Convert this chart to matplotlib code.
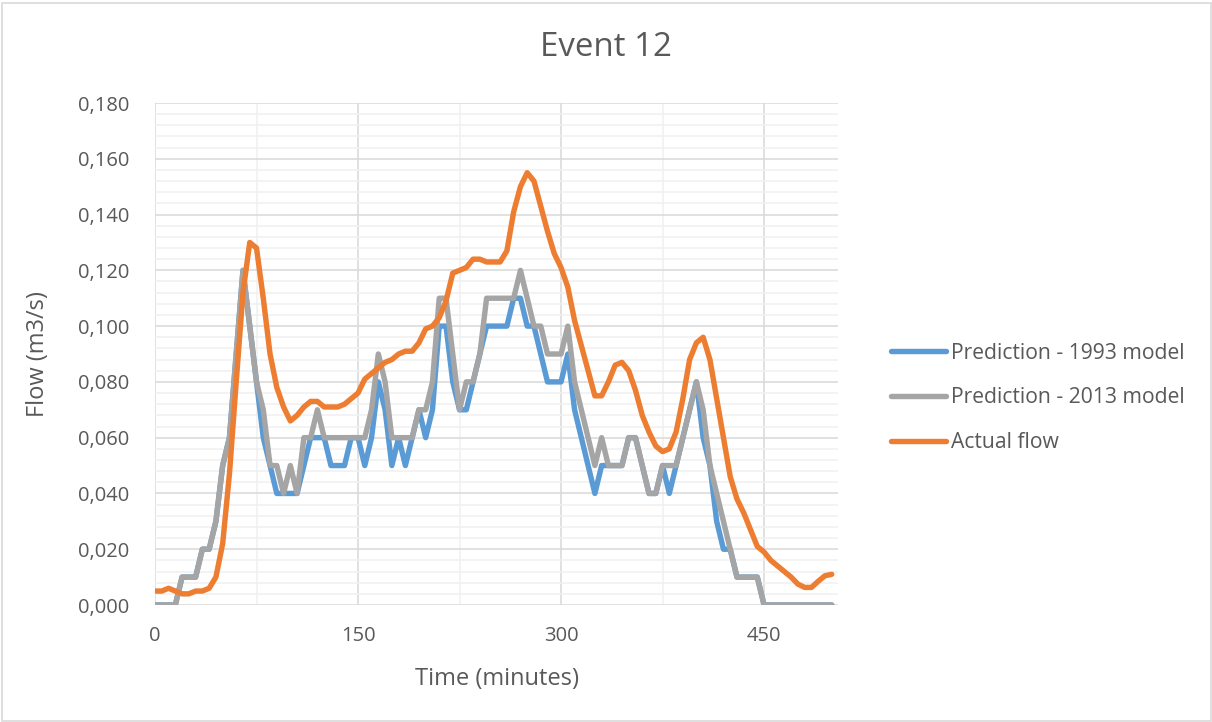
import numpy as np
import matplotlib
matplotlib.use("Agg")
import matplotlib.pyplot as plt
from matplotlib.patches import Rectangle
from matplotlib.ticker import MultipleLocator, FuncFormatter

plt.rcParams['font.family'] = ['Open Sans', 'DejaVu Sans']

# time axis, one reading every 5 minutes
time_min = np.arange(0, 505, 5)

pred_1993 = [
    0, 0, 0, 0, 0.01, 0.01, 0.01, 0.02, 0.02, 0.03,
    0.05, 0.06, 0.09, 0.12, 0.10, 0.08, 0.06, 0.05, 0.04, 0.04,
    0.04, 0.04, 0.05, 0.06, 0.06, 0.06, 0.05, 0.05, 0.05, 0.06,
    0.06, 0.05, 0.06, 0.08, 0.07, 0.05, 0.06, 0.05, 0.06, 0.07,
    0.06, 0.07, 0.10, 0.10, 0.08, 0.07, 0.07, 0.08, 0.09, 0.10,
    0.10, 0.10, 0.10, 0.11, 0.11, 0.10, 0.10, 0.09, 0.08, 0.08,
    0.08, 0.09, 0.07, 0.06, 0.05, 0.04, 0.05, 0.05, 0.05, 0.05,
    0.06, 0.06, 0.05, 0.04, 0.04, 0.05, 0.04, 0.05, 0.06, 0.07,
    0.08, 0.06, 0.05, 0.03, 0.02, 0.02, 0.01, 0.01, 0.01, 0.01,
    0, 0, 0, 0, 0, 0, 0, 0, 0, 0, 0,
]

pred_2013 = [
    0, 0, 0, 0, 0.01, 0.01, 0.01, 0.02, 0.02, 0.03,
    0.05, 0.06, 0.09, 0.12, 0.10, 0.08, 0.07, 0.05, 0.05, 0.04,
    0.05, 0.04, 0.06, 0.06, 0.07, 0.06, 0.06, 0.06, 0.06, 0.06,
    0.06, 0.06, 0.07, 0.09, 0.08, 0.06, 0.06, 0.06, 0.06, 0.07,
    0.07, 0.08, 0.11, 0.11, 0.09, 0.07, 0.08, 0.08, 0.09, 0.11,
    0.11, 0.11, 0.11, 0.11, 0.12, 0.11, 0.10, 0.10, 0.09, 0.09,
    0.09, 0.10, 0.08, 0.07, 0.06, 0.05, 0.06, 0.05, 0.05, 0.05,
    0.06, 0.06, 0.05, 0.04, 0.04, 0.05, 0.05, 0.05, 0.06, 0.07,
    0.08, 0.07, 0.05, 0.04, 0.03, 0.02, 0.01, 0.01, 0.01, 0.01,
    0, 0, 0, 0, 0, 0, 0, 0, 0, 0, 0,
]

actual_flow = [
    0.005, 0.005, 0.006, 0.005, 0.004, 0.004, 0.005, 0.005, 0.006, 0.010,
    0.022, 0.047, 0.080, 0.112, 0.130, 0.128, 0.110, 0.090, 0.078, 0.071,
    0.066, 0.068, 0.071, 0.073, 0.073, 0.071, 0.071, 0.071, 0.072, 0.074,
    0.076, 0.081, 0.083, 0.085, 0.087, 0.088, 0.090, 0.091, 0.091, 0.094,
    0.099, 0.100, 0.103, 0.109, 0.119, 0.120, 0.121, 0.124, 0.124, 0.123,
    0.123, 0.123, 0.127, 0.141, 0.150, 0.155, 0.152, 0.143, 0.134, 0.126,
    0.121, 0.114, 0.102, 0.093, 0.084, 0.075, 0.075, 0.080, 0.086, 0.087,
    0.084, 0.077, 0.068, 0.062, 0.057, 0.055, 0.056, 0.062, 0.074, 0.088,
    0.094, 0.096, 0.088, 0.074, 0.060, 0.046, 0.038, 0.033, 0.027, 0.021,
    0.019, 0.016, 0.014, 0.012, 0.010, 0.0075, 0.0063, 0.0063, 0.0085, 0.0105,
    0.011,
]

series_names = ['Prediction - 1993 model', 'Prediction - 2013 model', 'Actual flow']
series_colors = ['#5B9BD5', '#A5A5A5', '#ED7D31']

text_col = '#595959'

fig = plt.figure(figsize=(12.12, 7.22), dpi=100)
ax = fig.add_axes([155 / 1212, 1 - 605 / 722, (838.5 - 155) / 1212, (605 - 103) / 722])

# outer chart frame
fig.patches.append(Rectangle((1.5 / 1212, 1.5 / 722), 1209 / 1212, 718 / 722,
                             transform=fig.transFigure, fill=False,
                             edgecolor='#D9D9D9', lw=1.2))

for vals, name, col in zip([pred_1993, pred_2013, actual_flow], series_names, series_colors):
    ax.plot(time_min, vals, color=col, lw=3.9, label=name,
            solid_joinstyle='round', solid_capstyle='round', zorder=3)

ax.set_xlim(0, 505)
ax.set_ylim(0, 0.18)
ax.xaxis.set_major_locator(MultipleLocator(150))
ax.xaxis.set_minor_locator(MultipleLocator(75))
ax.yaxis.set_major_locator(MultipleLocator(0.02))
ax.yaxis.set_minor_locator(MultipleLocator(0.004))
ax.yaxis.set_major_formatter(FuncFormatter(lambda v, p: f'{v:.3f}'.replace('.', ',')))

ax.grid(which='minor', color='#F0F0F0', lw=1.1, zorder=0)
ax.grid(which='major', color='#D9D9D9', lw=1.1, zorder=1)
ax.set_axisbelow(True)
for s in ax.spines.values():
    s.set_visible(False)

ax.tick_params(which='both', length=0, labelsize=14.5, labelcolor=text_col)
ax.tick_params(axis='y', pad=18.5)
ax.tick_params(axis='x', pad=15)

ax.set_xlabel('Time (minutes)', fontsize=17, color=text_col, labelpad=15)
ax.set_ylabel('Flow (m3/s)', fontsize=17, color=text_col, labelpad=20)
fig.text(0.5, 1 - 47 / 722, 'Event 12', ha='center', va='center',
         fontsize=23.8, color=text_col)

leg = fig.legend(loc='center left', bbox_to_anchor=(872 / 1212, 1 - 398 / 722),
                 frameon=False, fontsize=15.2, handlelength=2.6, handletextpad=0.23,
                 labelspacing=1.12, labelcolor=text_col)

fig.savefig('out.png', dpi=100, facecolor='white')
